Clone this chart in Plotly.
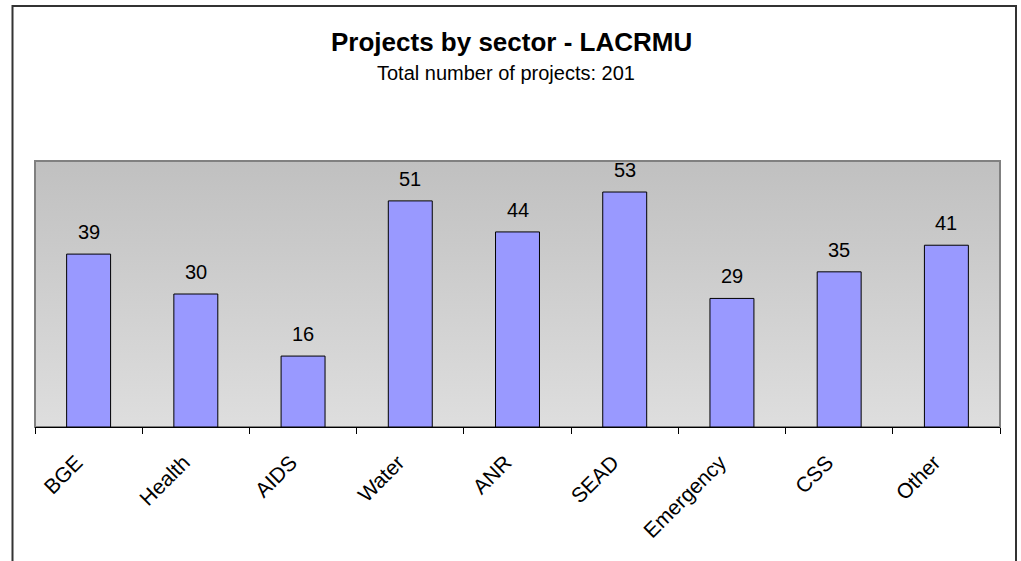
import base64
import plotly.graph_objects as go

categories = ["BGE", "Health", "AIDS", "Water", "ANR", "SEAD", "Emergency", "CSS", "Other"]
values = [39, 30, 16, 51, 44, 53, 29, 35, 41]
title_text = "Projects by sector - LACRMU"
subtitle_text = "Total number of projects: 201"

W, H = 1021, 561
ML, MR, MT, MB = 35, 21, 161, 134
pw = W - ML - MR
ph = H - MT - MB

FONT = "Liberation Sans, Arial"

svg = ('<svg xmlns="http://www.w3.org/2000/svg" width="100" height="100" preserveAspectRatio="none">'
       '<defs><linearGradient id="g" x1="0" y1="0" x2="0" y2="1">'
       '<stop offset="0" stop-color="#C0C0C0"/><stop offset="1" stop-color="#DEDEDE"/>'
       '</linearGradient></defs><rect width="100" height="100" fill="url(#g)"/></svg>')
src = "data:image/svg+xml;base64," + base64.b64encode(svg.encode()).decode()

fig = go.Figure()
fig.add_trace(go.Bar(
    x=categories, y=values,
    marker=dict(color="#9999FF", line=dict(color="black", width=1)),
    hoverinfo="x+y",
))

annotations = [
    dict(x=c, y=v, xref="x", yref="y", text=str(v), showarrow=False,
         yanchor="bottom", yshift=9, font=dict(family=FONT, size=20, color="black"))
    for c, v in zip(categories, values)
]
annotations.append(dict(x=(511 - ML) / pw, y=(H - MB - 42) / ph, xref="paper", yref="paper",
                        text="<b>" + title_text + "</b>", showarrow=False,
                        xanchor="center", yanchor="middle",
                        font=dict(family=FONT, size=26, color="black")))
annotations.append(dict(x=(506 - ML) / pw, y=(H - MB - 73) / ph, xref="paper", yref="paper",
                        text=subtitle_text, showarrow=False,
                        xanchor="center", yanchor="middle",
                        font=dict(family=FONT, size=20, color="black")))

shapes = [
    # plot-area border (gray)
    dict(type="rect", xref="paper", yref="paper", x0=0, x1=1, y0=0, y1=1,
         line=dict(color="#808080", width=2), layer="below"),
    # outer chart border
    dict(type="rect", xref="paper", yref="paper",
         x0=(12.5 - ML) / pw, x1=(1016 - ML) / pw,
         y0=(H - MB - 600) / ph, y1=(H - MB - 6) / ph,
         line=dict(color="#333333", width=2), layer="above"),
]

fig.update_layout(
    width=W, height=H,
    margin=dict(l=ML, r=MR, t=MT, b=MB),
    paper_bgcolor="white",
    plot_bgcolor="rgba(0,0,0,0)",
    showlegend=False,
    bargap=0.59,
    font=dict(family=FONT, color="black"),
    annotations=annotations,
    shapes=shapes,
    images=[dict(source=src, xref="paper", yref="paper", x=0, y=1, sizex=1, sizey=1,
                 xanchor="left", yanchor="top", sizing="stretch", layer="below")],
    xaxis=dict(
        type="category", tickson="boundaries", ticks="outside", ticklen=6,
        tickcolor="black", tickwidth=1, showline=True, linecolor="black", linewidth=1,
        tickangle=-45, tickfont=dict(family=FONT, size=21, color="black"),
        ticklabelstandoff=14, ticklabelshift=-12,
        showgrid=False, zeroline=False,
    ),
    yaxis=dict(range=[0, 60], visible=False, showgrid=False, zeroline=False),
)

fig.write_html("out.html", config={"displayModeBar": False},
               post_script="document.body.style.margin='0px';")
